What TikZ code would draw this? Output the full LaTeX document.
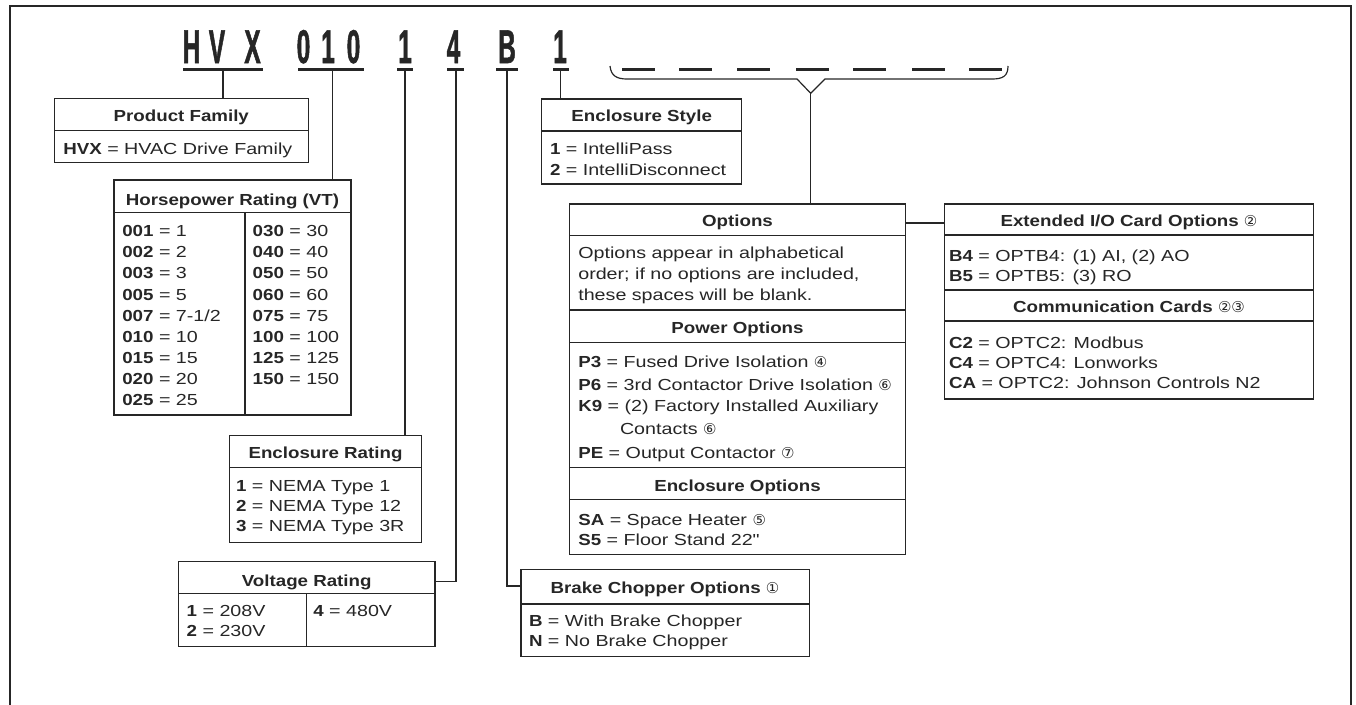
\documentclass[tikz,border=0pt]{standalone}
\usepackage{fontspec}
\setmainfont{Liberation Sans}[FakeStretch=1.23,BoldFeatures={FakeStretch=1.17}]
\newfontfamily\titlefont{Liberation Sans Bold}[FakeStretch=0.66,FakeBold=1.2]
\newfontfamily\circfont{DejaVu Sans}
\newfontfamily\plainfont{Liberation Sans}[FakeStretch=1.23]
\usetikzlibrary{calc}
\definecolor{ink}{HTML}{262626}
\newcounter{tn}
\newcommand\tl[3]{\stepcounter{tn}\node[txt,anchor=base west] (t\thetn) at (#1,#2) {#3};}
\newcommand\tc[3]{\stepcounter{tn}\node[txt,anchor=base,font=\fontsize{16}{20}\selectfont\bfseries] (t\thetn) at (#1,#2) {#3};}
\newcommand\cn[1]{{\circfont\mdseries\fontsize{15}{15}\selectfont #1}}
\begin{document}
\begin{tikzpicture}[x=1pt,y=-1pt,
  txt/.style={inner sep=0pt,outer sep=0pt,text=ink,font=\fontsize{16}{20}\selectfont},
  box/.style={draw=ink,line width=1.2pt,inner sep=0pt,outer sep=0pt,anchor=north west},
  div/.style={draw=ink,line width=1.2pt},
  conn/.style={draw=ink,line width=1.2pt},
  uline/.style={fill=ink,inner sep=0pt,outer sep=0pt,minimum height=3pt},
  tch/.style={inner sep=0pt,outer sep=0pt,anchor=base,text=ink,font=\titlefont\fontsize{37}{37}\selectfont}]
\useasboundingbox (0,0) rectangle (1356,704);
% outer frame
\draw[ink,line width=2pt] (9.5,710) -- (9.5,5.5) -- (1350.5,5.5) -- (1350.5,710);
% title characters
\foreach \ch/\x [count=\i] in {H/191.5,V/217,X/252.5,0/303.5,1/328,0/353.5,1/405,4/453.5,B/507,1/560}
  \node[tch] (c\i) at (\x,63) {\scalebox{1}[1.28]{\ch}};
% underlines
\node[uline,minimum width=80pt] (u1) at (223,69) {};
\node[uline,minimum width=66pt] (u2) at (331,69) {};
\node[uline,minimum width=16pt] (u3) at (405,69) {};
\node[uline,minimum width=17pt] (u4) at (455,69) {};
\node[uline,minimum width=22pt] (u5) at (507,69) {};
\node[uline,minimum width=16pt] (u6) at (560.5,69) {};
\foreach \x [count=\i] in {638.5,695.5,753.5,812,869.5,928,985.5}
  \node[uline,minimum width=33pt] (d\i) at (\x,69) {};
% brace
\coordinate (apex) at (810.7,93.3);
\draw[ink,line width=1.2pt] (610,66) .. controls (611,76) and (617,79) .. (627,79) -- (797,79) -- (apex) -- (825,79) -- (992,79) .. controls (1003,79) and (1008,76) .. (1008,66);
% boxes
\node[box,minimum width=254pt,minimum height=64pt] (pf) at (54.3,98.3) {};
\node[box,minimum width=237pt,minimum height=235pt] (hp) at (114,180) {};
\node[box,minimum width=192.4pt,minimum height=106.6pt] (er) at (229.3,435.7) {};
\node[box,minimum width=256.7pt,minimum height=85pt] (vr) at (178.3,561.7) {};
\node[box,minimum width=200pt,minimum height=85pt] (es) at (541.7,99) {};
\node[box,minimum width=336.4pt,minimum height=350.3pt] (op) at (569.3,204) {};
\node[box,minimum width=368.8pt,minimum height=195pt] (ex) at (944.5,204) {};
\node[box,minimum width=288.3pt,minimum height=87.4pt] (bc) at (521,569.3) {};
% dividers
\draw[div] ($(pf.north west)+(0,32.4)$) -- ($(pf.north east)+(0,32.4)$);
\draw[div] ($(hp.north west)+(0,32.3)$) -- ($(hp.north east)+(0,32.3)$);
\draw[div] ($(hp.north west)+(131,32.3)$) -- ($(hp.south west)+(131,0)$);
\draw[div] ($(er.north west)+(0,32)$) -- ($(er.north east)+(0,32)$);
\draw[div] ($(vr.north west)+(0,31.6)$) -- ($(vr.north east)+(0,31.6)$);
\draw[div] ($(vr.north west)+(128.4,31.6)$) -- ($(vr.south west)+(128.4,0)$);
\draw[div] ($(es.north west)+(0,32)$) -- ($(es.north east)+(0,32)$);
\foreach \d in {31.3,106,138.3,263.3,295.3}
  \draw[div] ($(op.north west)+(0,\d)$) -- ($(op.north east)+(0,\d)$);
\foreach \d in {31,86,117}
  \draw[div] ($(ex.north west)+(0,\d)$) -- ($(ex.north east)+(0,\d)$);
\draw[div] ($(bc.north west)+(0,34.7)$) -- ($(bc.north east)+(0,34.7)$);
% connectors
\draw[conn] (u1.south) -- (u1.south |- pf.north);
\draw[conn] ([xshift=1.7pt]u2.south) -- ([xshift=1.7pt]u2.south |- hp.north);
\draw[conn] (u3.south) -- (u3.south |- er.north);
\draw[conn] ([xshift=1pt]u4.south) |- ($(vr.north east)+(0,20)$);
\draw[conn] (u5.south) |- ($(bc.north west)+(0,16.7)$);
\draw[conn] (u6.south) -- (u6.south |- es.north);
\draw[conn] (apex) -- (apex |- op.north);
\draw[conn] ($(op.north east)+(0,19)$) -- ($(ex.north west)+(0,19)$);
% Product family
\tc{181.3}{121.7}{Product Family}
\tl{63.3}{154}{\textbf{HVX} = HVAC Drive Family}
% Horsepower
\tc{232.5}{205}{Horsepower Rating (VT)}
\foreach \a/\b [count=\i] in {001/1,002/2,003/3,005/5,007/7-1\slash 2,010/10,015/15,020/20,025/25}
  {\pgfmathsetmacro\yy{236.7+(\i-1)*21.13}\tl{122.3}{\yy}{\textbf{\a} = \b}}
\foreach \a/\b [count=\i] in {030/30,040/40,050/50,060/60,075/75,100/100,125/125,150/150}
  {\pgfmathsetmacro\yy{236.7+(\i-1)*21.13}\tl{252.7}{\yy}{\textbf{\a} = \b}}
% Enclosure rating
\tc{325.5}{458.3}{Enclosure Rating}
\tl{236}{491.7}{\textbf{1} = NEMA Type 1}
\tl{236}{511.7}{\textbf{2} = NEMA Type 12}
\tl{236}{531.7}{\textbf{3} = NEMA Type 3R}
% Voltage rating
\tc{306.7}{586.7}{Voltage Rating}
\tl{186.7}{616.7}{\textbf{1} = 208V}
\tl{186.7}{636.7}{\textbf{2} = 230V}
\tl{313.3}{616.7}{\textbf{4} = 480V}
% Enclosure style
\tc{641.7}{121.7}{Enclosure Style}
\tl{550}{154}{\textbf{1} = IntelliPass}
\tl{550}{175}{\textbf{2} = IntelliDisconnect}
% Options
\tc{737.5}{226.7}{Options}
\tl{578.3}{258.3}{Options appear in alphabetical}
\tl{578.3}{279.3}{order; if no options are included,}
\tl{578.3}{300.7}{these spaces will be blank.}
\tc{737.5}{333.3}{Power Options}
\tl{578.3}{367.3}{\textbf{P3} = Fused Drive Isolation \cn{④}}
\tl{578.3}{390}{\textbf{P6} = 3rd Contactor Drive Isolation \cn{⑥}}
\tl{578.3}{411.7}{\textbf{K9} = (2) Factory Installed Auxiliary}
\tl{620}{434}{Contacts \cn{⑥}}
\tl{578.3}{458.3}{\textbf{PE} = Output Contactor \cn{⑦}}
\tc{737.5}{491}{Enclosure Options}
\tl{578.3}{525}{\textbf{SA} = Space Heater \cn{⑤}}
\tl{578.3}{545}{\textbf{S5} = Floor Stand 22{\plainfont "}}
% Extended I/O
\tc{1129}{226.7}{Extended I/O Card Options \cn{②}}
\tl{949}{261.7}{\textbf{B4} = OPTB4: (1) AI, (2) AO}
\tl{949}{281.7}{\textbf{B5} = OPTB5: (3) RO}
\tc{1129}{312.5}{Communication Cards \cn{②③}}
\tl{949}{348}{\textbf{C2} = OPTC2: Modbus}
\tl{949}{368}{\textbf{C4} = OPTC4: Lonworks}
\tl{949}{388}{\textbf{CA} = OPTC2: Johnson Controls N2}
% Brake chopper
\tc{665}{593}{Brake Chopper Options \cn{①}}
\tl{529}{626.7}{\textbf{B} = With Brake Chopper}
\tl{529}{646.7}{\textbf{N} = No Brake Chopper}
\end{tikzpicture}
\end{document}
